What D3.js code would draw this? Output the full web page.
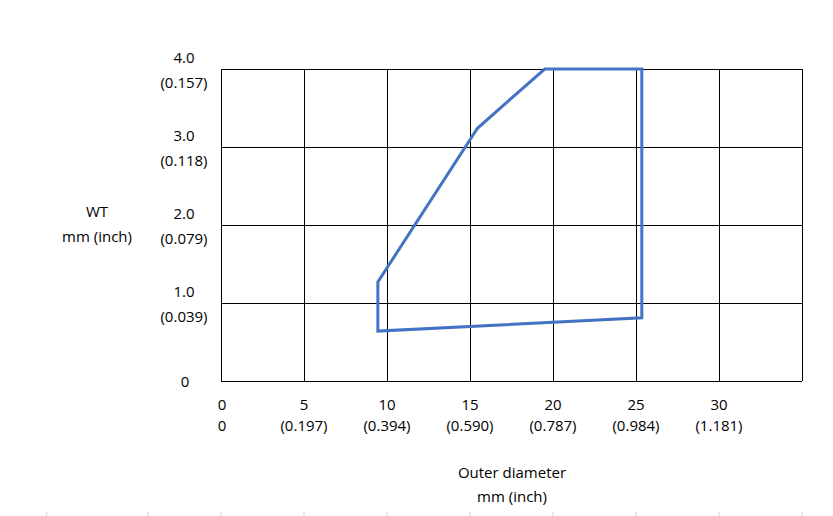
<!DOCTYPE html>
<html>
<head>
<meta charset="utf-8">
<script src="https://cdn.jsdelivr.net/npm/d3@7"></script>
<style>
  body { margin: 0; background: #fff; }
  text { font-family: "Open Sans", sans-serif; font-size: 15px; fill: #000; }
</style>
</head>
<body>
<svg id="chart"></svg>
<script>
const width = 833
const height = 516

// Axis ticks (mm) and inch labels
const xTicks = [0, 5, 10, 15, 20, 25, 30]
const xInch = ['0', '(0.197)', '(0.394)', '(0.590)', '(0.787)', '(0.984)', '(1.181)']
const yTicks = [1, 2, 3, 4]
const yInch = ['(0.039)', '(0.079)', '(0.118)', '(0.157)']
const yLabels = ['1.0', '2.0', '3.0', '4.0']

// Range outline: outer diameter (mm), wall thickness (mm)
const outlineOD = [9.45, 9.45, 25.35, 25.35, 19.5, 15.45]
const outlineWT = [1.27, 0.64, 0.81, 4.0, 4.0, 3.24]

// spreadsheet column boundaries showing at the bottom edge (mm units)
const cellEdges = [-10.5, -4.4, 0, 5, 10, 15, 20, 25, 30, 35]

const svg = d3.select('#chart')
    .attr('width', width)
    .attr('height', height);

const x = d3.scaleLinear().domain([0, 35]).range([221, 802]);
const y = d3.scaleLinear().domain([0, 4]).range([381, 69]);

// Grid
const grid = svg.append('g').attr('stroke', '#000').attr('stroke-width', 1).attr('shape-rendering', 'crispEdges');
grid.selectAll('.vx')
    .data(d3.range(0, 36, 5))
    .enter().append('line')
    .attr('x1', d => x(d)).attr('x2', d => x(d))
    .attr('y1', y(4)).attr('y2', y(0));
grid.selectAll('.hy')
    .data(d3.range(0, 5, 1))
    .enter().append('line')
    .attr('x1', x(0)).attr('x2', x(35))
    .attr('y1', d => y(d)).attr('y2', d => y(d));

// Y tick labels
const yl = svg.append('g').attr('text-anchor', 'middle');
yTicks.forEach((t, i) => {
    yl.append('text').attr('x', 184).attr('y', y(t) - 6).text(yLabels[i]);
    yl.append('text').attr('x', 184).attr('y', y(t) + 19).text(yInch[i]);
});
yl.append('text').attr('x', 185).attr('y', y(0) + 6).text('0');

// X tick labels
const xl = svg.append('g').attr('text-anchor', 'middle');
xTicks.forEach((t, i) => {
    xl.append('text').attr('x', x(t) + (t === 0 ? 1 : 0)).attr('y', 410).text(t);
    xl.append('text').attr('x', x(t) + (t === 0 ? 1 : 0)).attr('y', 431).text(xInch[i]);
});

// Axis titles
svg.append('text').attr('x', 512).attr('y', 478).attr('text-anchor', 'middle').text('Outer diameter');
svg.append('text').attr('x', 512).attr('y', 502).attr('text-anchor', 'middle').text('mm (inch)');
svg.append('text').attr('x', 97).attr('y', 217).attr('text-anchor', 'middle').text('WT');
svg.append('text').attr('x', 97).attr('y', 242).attr('text-anchor', 'middle').text('mm (inch)');

// Outline
const pts = outlineOD.map((d, i) => [x(d), y(outlineWT[i])]);
svg.append('path')
    .attr('d', d3.line()(pts) + 'Z')
    .attr('fill', 'none')
    .attr('stroke', '#4472C4')
    .attr('stroke-width', 3)
    .attr('stroke-linejoin', 'miter');

// faint cell marks at the bottom
svg.append('g').selectAll('line')
    .data(cellEdges)
    .enter().append('line')
    .attr('x1', d => x(d)).attr('x2', d => x(d))
    .attr('y1', 512).attr('y2', 516)
    .attr('stroke', '#d0d0d0')
    .attr('stroke-width', 1);
</script>
</body>
</html>
